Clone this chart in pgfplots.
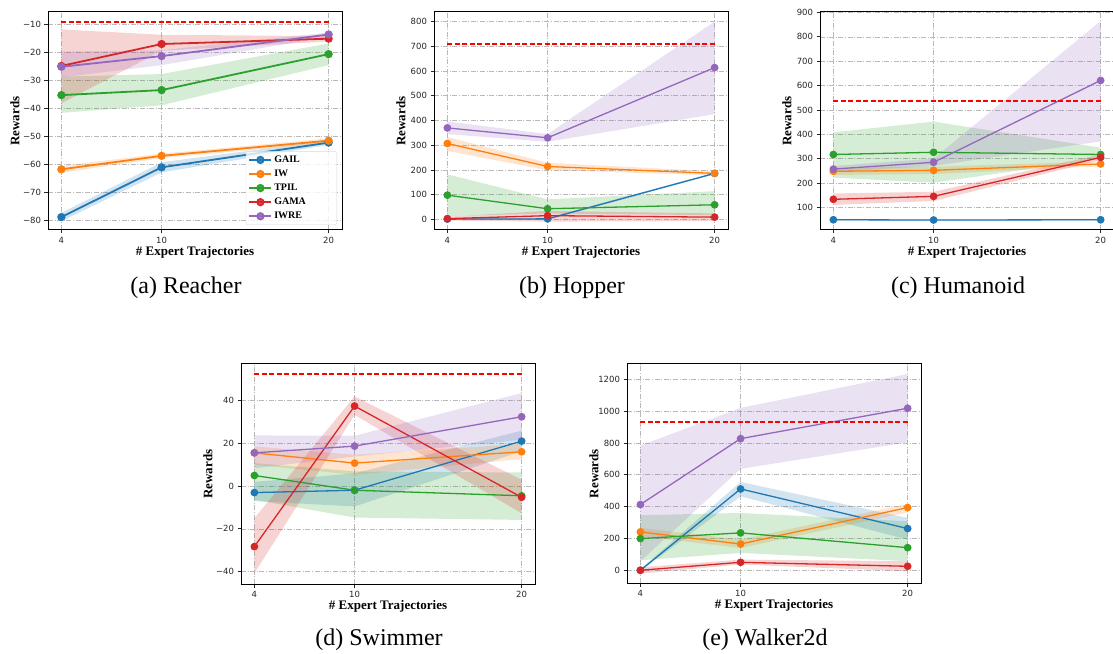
\documentclass[border=0pt]{standalone}
\usepackage{fontspec}
\setmainfont{Liberation Serif}
\newfontfamily\tickfont{DejaVu Sans}
\usepackage{pgfplots}
\pgfplotsset{compat=1.18}

\definecolor{cB}{HTML}{1F77B4}
\definecolor{cO}{HTML}{FF7F0E}
\definecolor{cG}{HTML}{2CA02C}
\definecolor{cR}{HTML}{D62728}
\definecolor{cP}{HTML}{9467BD}

\pgfplotsset{
  panel/.style={
    scale only axis, width=294pt, height=218pt,
    xmin=3.2, xmax=20.8, xtick={4,10,20},
    grid=major,
    major grid style={gray!55, line width=0.6pt, dash pattern=on 5pt off 1.6pt on 1pt off 1.6pt},
    axis line style={black, line width=1pt},
    tick align=outside, tick pos=left,
    major tick length=3.5pt,
    tick style={black!85, line width=0.8pt},
    ticklabel style={font=\tickfont\fontsize{8.5}{9.5}\selectfont, text=black!85},
    /pgf/number format/assume math mode=true,
    /pgf/number format/1000 sep={},
    scaled ticks=false,
    xlabel={\# Expert Trajectories},
    ylabel={Rewards},
    xlabel style={font=\bfseries\fontsize{13}{14}\selectfont, at={(axis description cs:0.5,-0.1147)}, anchor=base},
    ylabel style={font=\bfseries\fontsize{13}{14}\selectfont, at={(axis description cs:-0.1122,0.5)}, anchor=center},
  },
  band/.style={draw=none, fill=#1, fill opacity=0.2, forget plot},
  curve/.style={#1, line width=1.3pt, mark=*, mark size=3.2pt, mark options={solid, fill=#1, draw=#1}},
  expert/.style={red, line width=2pt, dash pattern=on 5pt off 2.5pt, forget plot},
}

\begin{document}
\begin{tikzpicture}

% (a) Reacher
\begin{axis}[panel, at={(48pt,423pt)}, anchor=south west,
    ymin=-83.3, ymax=-5.7, ytick={-80,-70,-60,-50,-40,-30,-20,-10},
    yticklabels={−80,−70,−60,−50,−40,−30,−20,−10},
    legend style={at={(0.983,0.023)}, anchor=south east, draw=black!15, rounded corners=2pt,
      fill=white, fill opacity=0.8, text opacity=1, font=\bfseries\fontsize{10}{11}\selectfont,
      inner sep=2.5pt, row sep=2pt, cells={anchor=west}},
    legend image code/.code={\draw[mark repeat=2,mark phase=2,#1] plot coordinates {(0pt,0pt) (11pt,0pt) (22pt,0pt)};},
  ]
\addplot[band=cB] coordinates {(4,-77.2) (10,-59.2) (20,-51.4) (20,-53.0) (10,-62.8) (4,-80.2)} -- cycle;
\addplot[band=cO] coordinates {(4,-60.5) (10,-56.1) (20,-50.7) (20,-52.3) (10,-57.7) (4,-62.9)} -- cycle;
\addplot[band=cG] coordinates {(4,-28.7) (10,-27.8) (20,-16.9) (20,-24.6) (10,-38.9) (4,-41.6)} -- cycle;
\addplot[band=cR] coordinates {(4,-11.9) (10,-13.8) (20,-14.3) (20,-16.2) (10,-19.5) (4,-38.2)} -- cycle;
\addplot[band=cP] coordinates {(4,-19.8) (10,-19.3) (20,-13.0) (20,-14.5) (10,-24.6) (4,-29.0)} -- cycle;
\addplot[curve=cB, line width=1.8pt] coordinates {(4,-78.7) (10,-61.0) (20,-52.2)};
\addlegendentry{\makebox[58pt][l]{GAIL}}
\addplot[curve=cO, line width=1.8pt] coordinates {(4,-61.7) (10,-56.9) (20,-51.5)};
\addlegendentry{IW}
\addplot[curve=cG, line width=1.8pt] coordinates {(4,-35.3) (10,-33.5) (20,-20.7)};
\addlegendentry{TPIL}
\addplot[curve=cR, line width=1.8pt] coordinates {(4,-24.9) (10,-17.1) (20,-15.2)};
\addlegendentry{GAMA}
\addplot[curve=cP, line width=1.8pt] coordinates {(4,-25.2) (10,-21.4) (20,-13.7)};
\addlegendentry{IWRE}
\addplot[expert] coordinates {(4,-9.2) (20,-9.2)};
\end{axis}

% (b) Hopper
\begin{axis}[panel, at={(434pt,423pt)}, anchor=south west,
    ymin=-43, ymax=839, ytick={0,100,...,800}]
\addplot[band=cB] coordinates {(4,4) (10,6) (20,190) (20,182) (10,-2) (4,-2)} -- cycle;
\addplot[band=cO] coordinates {(4,333) (10,229) (20,194) (20,179) (10,199) (4,277)} -- cycle;
\addplot[band=cG] coordinates {(4,182) (10,81) (20,114) (20,17) (10,24) (4,13)} -- cycle;
\addplot[band=cR] coordinates {(4,11) (10,34) (20,24) (20,-7) (10,-9) (4,-5)} -- cycle;
\addplot[band=cP] coordinates {(4,396) (10,345) (20,800) (20,426) (10,314) (4,345)} -- cycle;
\addplot[curve=cB] coordinates {(4,1) (10,2) (20,186)};
\addplot[curve=cO] coordinates {(4,307) (10,214) (20,186)};
\addplot[curve=cG] coordinates {(4,98) (10,43) (20,59)};
\addplot[curve=cR] coordinates {(4,3) (10,15) (20,9)};
\addplot[curve=cP] coordinates {(4,370) (10,330) (20,614)};
\addplot[expert] coordinates {(4,710) (20,710)};
\end{axis}

% (c) Humanoid
\begin{axis}[panel, at={(820pt,423pt)}, anchor=south west,
    ymin=7, ymax=902, ytick={100,200,...,900}]
\addplot[band=cB] coordinates {(4,52) (10,51) (20,52) (20,46) (10,45) (4,46)} -- cycle;
\addplot[band=cO] coordinates {(4,263) (10,267) (20,288) (20,268) (10,237) (4,233)} -- cycle;
\addplot[band=cG] coordinates {(4,408) (10,452) (20,345) (20,300) (10,201) (4,222)} -- cycle;
\addplot[band=cR] coordinates {(4,157) (10,164) (20,317) (20,294) (10,126) (4,110)} -- cycle;
\addplot[band=cP] coordinates {(4,270) (10,300) (20,865) (20,371) (10,270) (4,246)} -- cycle;
\addplot[curve=cB] coordinates {(4,49) (10,48) (20,49)};
\addplot[curve=cO] coordinates {(4,248) (10,252) (20,278)};
\addplot[curve=cG] coordinates {(4,317) (10,326) (20,317)};
\addplot[curve=cR] coordinates {(4,133) (10,145) (20,305)};
\addplot[curve=cP] coordinates {(4,257) (10,285) (20,621)};
\addplot[expert] coordinates {(4,537) (20,537)};
\end{axis}

% (d) Swimmer
\begin{axis}[panel, at={(241pt,69pt)}, anchor=south west, height=220pt,
    ymin=-45.8, ymax=57.2, ytick={-40,-20,0,20,40},
    yticklabels={−40,−20,0,20,40}]
\addplot[band=cB] coordinates {(4,2) (10,6) (20,26) (20,16.3) (10,-9.5) (4,-7)} -- cycle;
\addplot[band=cO] coordinates {(4,18.6) (10,14.7) (20,19.8) (20,12.7) (10,5.3) (4,10)} -- cycle;
\addplot[band=cG] coordinates {(4,10.8) (10,6.9) (20,6.4) (20,-15.8) (10,-14.7) (4,-6.4)} -- cycle;
\addplot[band=cR] coordinates {(4,-15) (10,42) (20,3) (20,-12.7) (10,33.4) (4,-40.8)} -- cycle;
\addplot[band=cP] coordinates {(4,23.75) (10,23.6) (20,43.6) (20,21.7) (10,13.9) (4,8.4)} -- cycle;
\addplot[curve=cB] coordinates {(4,-3.0) (10,-1.9) (20,21.1)};
\addplot[curve=cO] coordinates {(4,15.6) (10,10.8) (20,16.1)};
\addplot[curve=cG] coordinates {(4,5.0) (10,-1.9) (20,-4.5)};
\addplot[curve=cR] coordinates {(4,-28.3) (10,37.5) (20,-5.2)};
\addplot[curve=cP] coordinates {(4,15.6) (10,18.75) (20,32.5)};
\addplot[expert] coordinates {(4,52.5) (20,52.5)};
\end{axis}

% (e) Walker2d
\begin{axis}[panel, at={(627pt,70pt)}, anchor=south west, height=219pt,
    ymin=-80, ymax=1296, ytick={0,200,...,1200}]
\addplot[band=cB] coordinates {(4,6) (10,555) (20,329) (20,193) (10,465) (4,-6)} -- cycle;
\addplot[band=cO] coordinates {(4,266) (10,193) (20,417) (20,364) (10,140) (4,214)} -- cycle;
\addplot[band=cG] coordinates {(4,346) (10,360) (20,308) (20,57) (10,109) (4,63)} -- cycle;
\addplot[band=cR] coordinates {(4,19) (10,67) (20,57) (20,-6) (10,36) (4,-21)} -- cycle;
\addplot[band=cP] coordinates {(4,783) (10,1020) (20,1233) (20,804) (10,637) (4,57)} -- cycle;
\addplot[curve=cB] coordinates {(4,0) (10,511) (20,262)};
\addplot[curve=cO] coordinates {(4,241) (10,165) (20,394)};
\addplot[curve=cG] coordinates {(4,199) (10,235) (20,142)};
\addplot[curve=cR] coordinates {(4,0) (10,50) (20,25)};
\addplot[curve=cP] coordinates {(4,413) (10,827) (20,1018)};
\addplot[expert] coordinates {(4,930) (20,930)};
\end{axis}

\node[font=\fontsize{24}{28}\selectfont, anchor=base] at (186pt,359pt) {(a) Reacher};
\node[font=\fontsize{24}{28}\selectfont, anchor=base] at (572pt,359pt) {(b) Hopper};
\node[font=\fontsize{24}{28}\selectfont, anchor=base] at (958pt,359pt) {(c) Humanoid};
\node[font=\fontsize{24}{28}\selectfont, anchor=base] at (379pt,8pt) {(d) Swimmer};
\node[font=\fontsize{24}{28}\selectfont, anchor=base] at (765pt,8pt) {(e) Walker2d};

\pgfresetboundingbox
\useasboundingbox (0pt,0pt) rectangle (1113pt,653pt);
\end{tikzpicture}
\end{document}
